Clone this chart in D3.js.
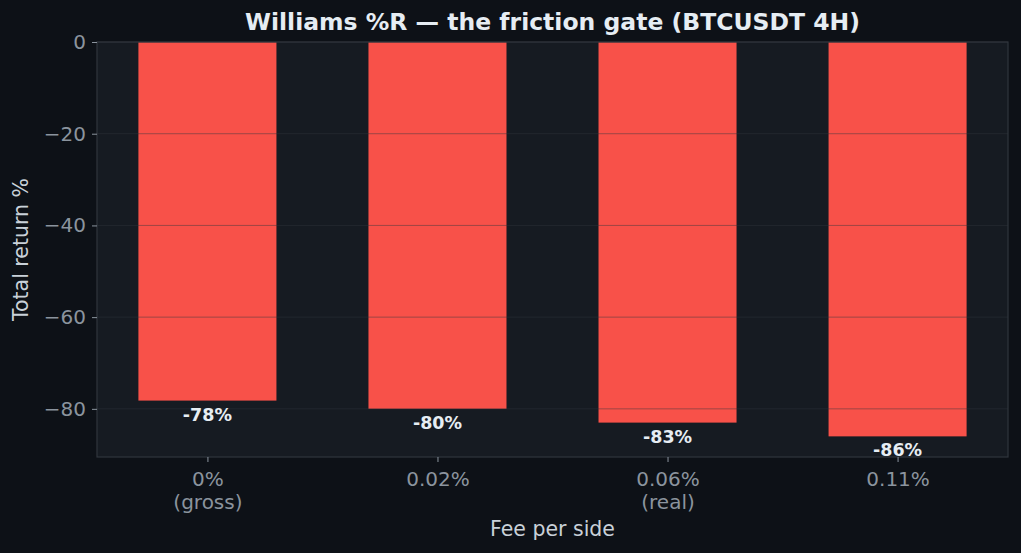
<!DOCTYPE html>
<html>
<head>
<meta charset="utf-8">
<script src="https://cdn.jsdelivr.net/npm/d3@7"></script>
<style>
  html, body { margin: 0; padding: 0; background: #0d1117; }
  svg { display: block; }
  svg text { font-family: "DejaVu Sans", sans-serif; }
</style>
</head>
<body>
<svg id="chart"></svg>
<script>
// data
var feeLabels = [['0%', '(gross)'], ['0.02%'], ['0.06%', '(real)'], ['0.11%']];
var totalReturns = [-78.2, -80.0, -83.0, -86.0];
var valueLabels = ['-78%', '-80%', '-83%', '-86%'];
var yTicks = [0, -20, -40, -60, -80];

var width = 1021, height = 553;
var margin = { top: 42, right: 13, bottom: 96, left: 97 };
var plotW = width - margin.left - margin.right;
var plotH = height - margin.top - margin.bottom;
var barWidth = 0.6;
var font = '"DejaVu Sans", sans-serif';

var svg = d3.select('#chart')
    .attr('width', width)
    .attr('height', height);

svg.append('rect')
    .attr('width', width)
    .attr('height', height)
    .attr('fill', '#0d1117');

var x = d3.scaleLinear()
    .domain([-0.48, totalReturns.length - 1 + 0.48])
    .range([0, plotW]);

var y = d3.scaleLinear()
    .domain([-90.5, 0])
    .range([plotH, 0]);

var g = svg.append('g')
    .attr('transform', 'translate(' + margin.left + ',' + margin.top + ')');

g.append('rect')
    .attr('width', plotW)
    .attr('height', plotH)
    .attr('fill', '#161b22');

g.selectAll('.bar')
    .data(totalReturns)
    .join('rect')
    .attr('class', 'bar')
    .attr('x', (d, i) => x(i - barWidth / 2))
    .attr('width', (d, i) => x(i + barWidth / 2) - x(i - barWidth / 2))
    .attr('y', d => y(0))
    .attr('height', d => y(d) - y(0))
    .attr('fill', '#f85149');

// grid sits on top of the bars, like the reference
g.selectAll('.grid')
    .data(yTicks)
    .join('line')
    .attr('class', 'grid')
    .attr('x1', 0)
    .attr('x2', plotW)
    .attr('y1', d => y(d))
    .attr('y2', d => y(d))
    .attr('stroke', '#30363d')
    .attr('stroke-opacity', 0.45)
    .attr('stroke-width', 1);

g.selectAll('.value-label')
    .data(totalReturns)
    .join('text')
    .attr('class', 'value-label')
    .attr('x', (d, i) => x(i))
    .attr('y', d => y(d) + 6)
    .attr('dy', '0.8em')
    .attr('text-anchor', 'middle')
    .attr('font-family', font)
    .attr('font-size', 17.5)
    .attr('font-weight', 'bold')
    .attr('fill', '#e6edf3')
    .text((d, i) => valueLabels[i]);

// frame
g.append('rect')
    .attr('width', plotW)
    .attr('height', plotH)
    .attr('fill', 'none')
    .attr('stroke', '#30363d')
    .attr('stroke-width', 1.2);

var yAxis = g.append('g')
    .call(d3.axisLeft(y).tickValues(yTicks).tickSize(5).tickPadding(6)
        .tickFormat(d => d3.format('d')(d).replace('-', '\u2212')));
yAxis.select('.domain').remove();
yAxis.selectAll('.tick line').attr('stroke', '#8b949e');
yAxis.selectAll('.tick text')
    .attr('fill', '#8b949e')
    .attr('font-size', 20)
    .attr('font-family', font);

var xAxis = g.append('g')
    .attr('transform', 'translate(0,' + plotH + ')')
    .call(d3.axisBottom(x).tickValues(d3.range(feeLabels.length)).tickSize(5).tickFormat(''));
xAxis.select('.domain').remove();
xAxis.selectAll('.tick line').attr('stroke', '#8b949e');

xAxis.selectAll('.tick')
    .append('text')
    .attr('fill', '#8b949e')
    .attr('font-size', 20)
    .attr('font-family', font)
    .attr('text-anchor', 'middle')
    .selectAll('tspan')
    .data((d, i) => feeLabels[i])
    .join('tspan')
    .attr('x', 0)
    .attr('y', (d, j) => 29 + j * 22.5)
    .text(d => d);

svg.append('text')
    .attr('x', margin.left + plotW / 2)
    .attr('y', 536)
    .attr('text-anchor', 'middle')
    .attr('font-size', 20.5)
    .attr('fill', '#c9d1d9')
    .text('Fee per side');

svg.append('text')
    .attr('transform', 'translate(28,' + (margin.top + plotH / 2) + ') rotate(-90)')
    .attr('text-anchor', 'middle')
    .attr('font-size', 20.5)
    .attr('fill', '#c9d1d9')
    .text('Total return %');

svg.append('text')
    .attr('x', margin.left + plotW / 2)
    .attr('y', 30)
    .attr('text-anchor', 'middle')
    .attr('font-size', 23.5)
    .attr('font-weight', 'bold')
    .attr('fill', '#e6edf3')
    .text('Williams %R \u2014 the friction gate (BTCUSDT 4H)');
</script>
</body>
</html>
